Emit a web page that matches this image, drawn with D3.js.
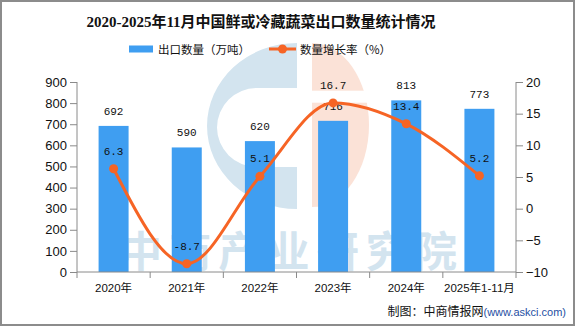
<!DOCTYPE html>
<html><head><meta charset="utf-8">
<script src="https://cdn.jsdelivr.net/npm/d3@7"></script>
<style>body{margin:0;background:#fff}svg{display:block}</style>
</head><body>
<script>
const categories = ["2020年","2021年","2022年","2023年","2024年","2025年1-11月"];
const exportVolume = [692, 590, 620, 716, 813, 773];
const growthRate = [6.3, -8.7, 5.1, 16.7, 13.4, 5.2];
const leftTicks = [0,100,200,300,400,500,600,700,800,900];
const rightTicks = [-10,-5,0,5,10,15,20];

const W = 576, H = 327;
const svg = d3.select("body").append("svg").attr("width", W).attr("height", H);

const x = d3.scaleBand().domain(categories).range([77, 516]).paddingInner(0.59).paddingOuter(0.295);
const xb = d3.scaleBand().domain(categories).range([77, 516]);
const yL = d3.scaleLinear().domain([0, 900]).range([272, 82]);
const yR = d3.scaleLinear().domain([-10, 20]).range([272, 82]);

// watermark logo
const wm = svg.append("g");
const blue = "#d3e4ef", orange = "#fbe2d7";
wm.append("path").attr("fill", blue).attr("fill-rule", "evenodd")
  .attr("d", "M297,43 A90,83 0 0 0 297,209 L297,43 Z M297,88 L257,88 A40,39.5 0 0 0 257,167 L297,167 Z");
wm.append("path").attr("fill", orange)
  .attr("d", "M312,43 A57,82 0 0 1 312,207 Z");
wm.append("rect").attr("x", 311).attr("y", 90.7).attr("width", 60).attr("height", 12).attr("fill", "#fff");
wm.append("text").attr("x", 120).attr("y", 267).attr("textLength", 337).attr("lengthAdjust", "spacing")
  .attr("font-family", "Noto Sans CJK SC").attr("font-weight", "bold").attr("font-size", 42).attr("fill", blue).text("中商产业研究院");

// bars
svg.append("g").selectAll("rect").data(exportVolume).join("rect")
  .attr("x", (d, i) => x(categories[i])).attr("width", x.bandwidth())
  .attr("y", d => yL(d)).attr("height", d => yL(0) - yL(d)).attr("fill", "#3f9ef1");

// axes
const axisColor = "#8a8a8a";
const gL = svg.append("g").attr("transform", "translate(77,0)")
  .call(d3.axisLeft(yL).tickValues(leftTicks).tickSize(7).tickPadding(3));
const gR = svg.append("g").attr("transform", "translate(516,0)")
  .call(d3.axisRight(yR).tickValues(rightTicks).tickSize(7).tickPadding(3).tickFormat(d => d < 0 ? "\u2212" + Math.abs(d) : d));
[gL, gR].forEach(g => {
  g.selectAll("path,line").attr("stroke", axisColor);
  g.select(".domain").attr("d", "M0,82V272");
  g.selectAll("text").attr("font-family", "Liberation Sans, Arial").attr("font-size", 13).attr("fill", "#111");
});
// x axis
const gx = svg.append("g");
gx.append("line").attr("x1", 77).attr("x2", 516).attr("y1", 272).attr("y2", 272).attr("stroke", axisColor);
const bounds = categories.map(c => xb(c)).concat([516]);
gx.selectAll("line.t").data(bounds).join("line").attr("class", "t")
  .attr("x1", d => d).attr("x2", d => d).attr("y1", 272).attr("y2", 278).attr("stroke", axisColor);
gx.selectAll("text").data(categories).join("text")
  .attr("x", d => xb(d) + xb.bandwidth() / 2).attr("y", 292).attr("text-anchor", "middle")
  .attr("font-family", "Liberation Sans, Noto Sans CJK SC").attr("font-size", 11.5).attr("fill", "#111").text(d => d);

// bar labels
svg.append("g").selectAll("text").data(exportVolume).join("text")
  .attr("x", (d, i) => xb(categories[i]) + xb.bandwidth() / 2).attr("y", d => yL(d) - 11)
  .attr("text-anchor", "middle").attr("font-family", "Liberation Mono, monospace").attr("font-size", 11)
  .attr("fill", "#111").text(d => d);

// line
const cx = (i) => xb(categories[i]) + xb.bandwidth() / 2;
const line = d3.line().x((d, i) => cx(i)).y(d => yR(d)).curve(d3.curveMonotoneX);
svg.append("path").datum(growthRate).attr("d", line).attr("fill", "none")
  .attr("stroke", "#f66425").attr("stroke-width", 3);
svg.append("g").selectAll("circle").data(growthRate).join("circle")
  .attr("cx", (d, i) => cx(i)).attr("cy", d => yR(d)).attr("r", 4.5).attr("fill", "#f66425");
svg.append("g").selectAll("text").data(growthRate).join("text")
  .attr("x", (d, i) => cx(i)).attr("y", d => yR(d) - 14)
  .attr("text-anchor", "middle").attr("font-family", "Liberation Mono, monospace").attr("font-size", 11)
  .attr("fill", "#111").text(d => d.toFixed(1));

// title
svg.append("text").attr("x", 261).attr("y", 27).attr("text-anchor", "middle")
  .attr("font-family", "Liberation Serif, Noto Sans CJK SC").attr("font-weight", "bold").attr("font-size", 15)
  .attr("fill", "#111").text("2020-2025年11月中国鲜或冷藏蔬菜出口数量统计情况");

// legend
const lg = svg.append("g");
lg.append("rect").attr("x", 129).attr("y", 45.5).attr("width", 24).attr("height", 7).attr("fill", "#3f9ef1");
lg.append("text").attr("x", 158).attr("y", 53.5).attr("font-family", "Noto Sans CJK SC").attr("font-size", 11.5)
  .attr("fill", "#111").text("出口数量（万吨）");
lg.append("line").attr("x1", 269).attr("x2", 296).attr("y1", 49).attr("y2", 49).attr("stroke", "#f66425").attr("stroke-width", 3);
lg.append("circle").attr("cx", 282.5).attr("cy", 49).attr("r", 4.5).attr("fill", "#f66425");
lg.append("text").attr("x", 300).attr("y", 53.5).attr("font-family", "Noto Sans CJK SC").attr("font-size", 11.5)
  .attr("fill", "#111").text("数量增长率（%）");

// source
const src = svg.append("text").attr("x", 566).attr("y", 316).attr("text-anchor", "end")
  .attr("font-family", "Noto Sans CJK SC, Liberation Sans").attr("font-size", 12);
src.append("tspan").attr("fill", "#111").text("制图：中商情报网");
src.append("tspan").attr("fill", "#1f4fa3").attr("font-size", 11).attr("font-family", "Liberation Sans").text("(www.askci.com)");

// border
svg.append("rect").attr("x", 1).attr("y", 1).attr("width", 573).attr("height", 324)
  .attr("fill", "none").attr("stroke", "#8c8c8c").attr("stroke-width", 2);
</script>
</body></html>
